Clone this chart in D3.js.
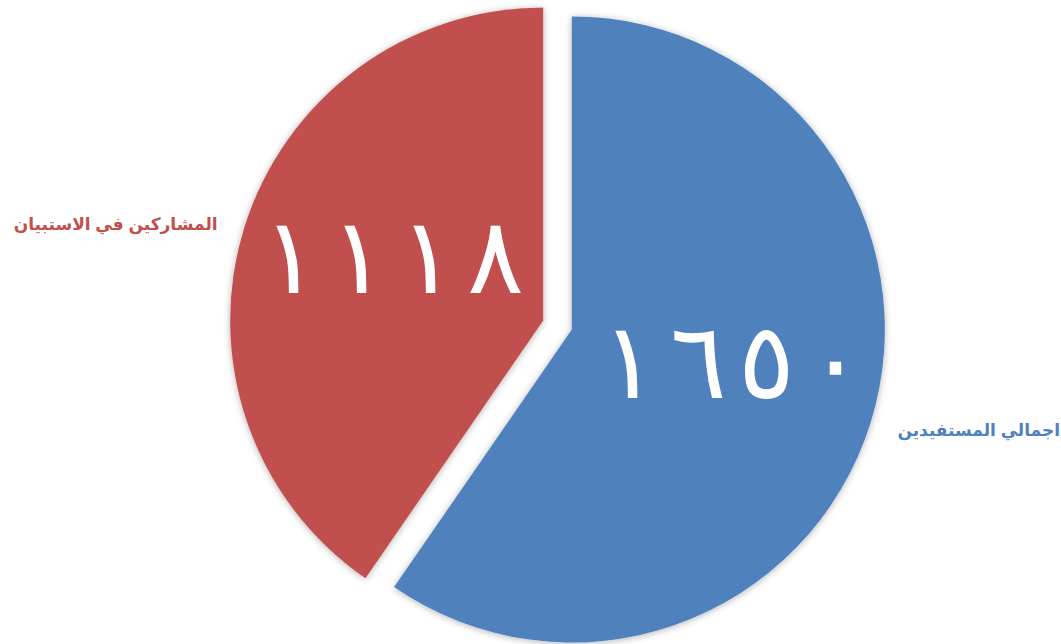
<!DOCTYPE html>
<html>
<head>
<meta charset="utf-8">
<script src="https://cdn.jsdelivr.net/npm/d3@7"></script>
<style>
  html, body { margin: 0; padding: 0; background: #fff; }
  svg { display: block; }
</style>
</head>
<body>
<svg id="chart" width="1061" height="644"></svg>
<script>
const categories = ["اجمالي المستفيدين", "المشاركين في الاستبيان"];
const values = [1650, 1118];
const valueLabels = ["١٦٥٠", "١١١٨"];
const colors = ["#4F81BD", "#C0504D"];

const W = 1061, H = 644;
const cx = 557.5, cy = 325, R = 313, explode = 15;
const digitPitch = 68.5;

const svg = d3.select("#chart");
const defs = svg.append("defs");
const f = defs.append("filter").attr("id", "shadow")
  .attr("x", "-20%").attr("y", "-20%").attr("width", "140%").attr("height", "140%");
f.append("feDropShadow").attr("dx", 0).attr("dy", 1).attr("stdDeviation", 3.5)
  .attr("flood-color", "#000").attr("flood-opacity", 0.3);

const pie = d3.pie().sort(null).value(d => d.v).startAngle(0).endAngle(2 * Math.PI);
const data = values.map((v, i) => ({ v, i }));
const arcs = pie(data);
const arc = d3.arc().innerRadius(0).outerRadius(R);
const color = d3.scaleOrdinal().domain(d3.range(values.length)).range(colors);

function dir(d) {
  const a = (d.startAngle + d.endAngle) / 2;
  return [Math.sin(a), -Math.cos(a)];
}

const g = svg.append("g").attr("transform", `translate(${cx},${cy})`);

const slices = g.selectAll("g.slice").data(arcs).enter().append("g")
  .attr("class", "slice")
  .attr("transform", d => { const [x, y] = dir(d); return `translate(${x * explode},${y * explode})`; });

slices.append("path")
  .attr("d", arc)
  .attr("fill", d => color(d.data.i))
  .attr("filter", "url(#shadow)");

// value labels inside (digits drawn one by one, spaced apart)
slices.each(function(d) {
  const label = Array.from(valueLabels[d.data.i]);
  const gx = dir(d)[0] * 160 + (d.data.i === 0 ? 8 : 2.6);
  const gy = dir(d)[1] * 160 + (d.data.i === 0 ? -16 : -17);
  const lg = d3.select(this).append("text")
    .attr("text-anchor", "middle")
    .attr("dominant-baseline", "central")
    .attr("fill", "#fff")
    .attr("font-family", "'DejaVu Serif', 'Liberation Serif', serif")
    .attr("font-size", 106);
  lg.selectAll("tspan").data(label).enter().append("tspan")
    .attr("x", (c, k) => gx + (k - (label.length - 1) / 2) * digitPitch)
    .attr("y", gy)
    .text(c => c);
});

// category labels outside
slices.append("text")
  .attr("x", d => dir(d)[0] * 341)
  .attr("y", d => dir(d)[1] * 341 + (dir(d)[0] > 0 ? 0 : 5))
  .attr("text-anchor", d => dir(d)[0] > 0 ? "start" : "end")
  .attr("dominant-baseline", "central")
  .attr("fill", d => color(d.data.i))
  .attr("font-family", "'Liberation Sans', 'DejaVu Sans', sans-serif")
  .attr("font-weight", "bold")
  .attr("font-size", 17)
  .text(d => categories[d.data.i]);
</script>
</body>
</html>
